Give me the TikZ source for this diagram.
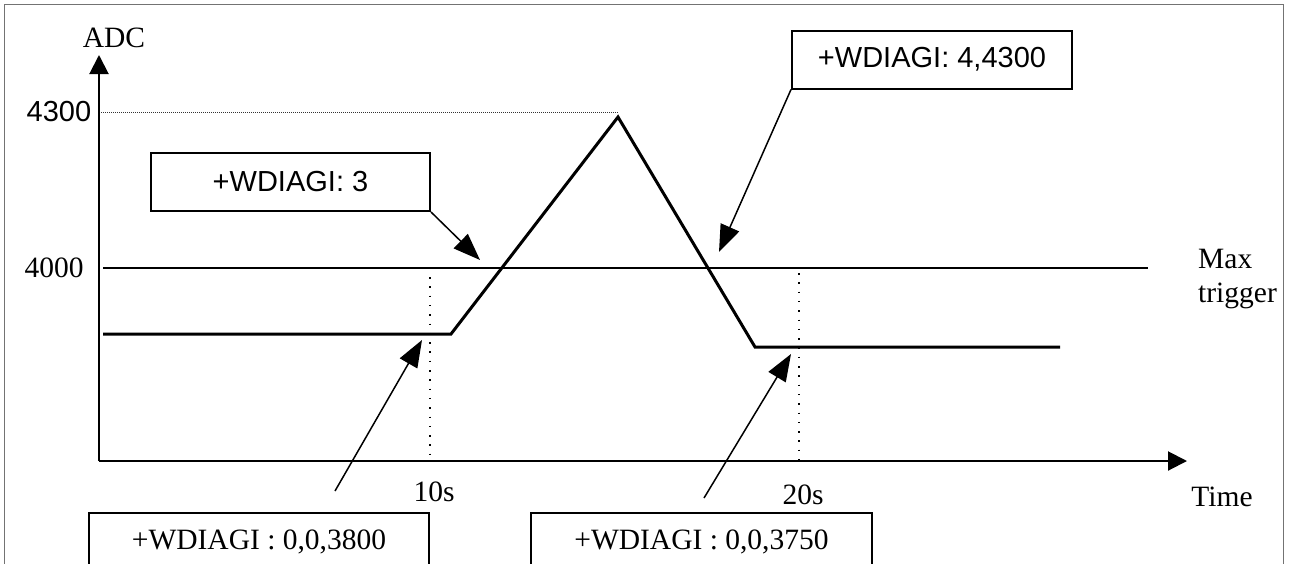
\documentclass[tikz,border=0pt]{standalone}
\usepackage{fontspec}
\setmainfont{Liberation Serif}
\newfontfamily\arial{Liberation Sans}
\usetikzlibrary{arrows.meta}
\tikzset{
  serif/.style={font=\fontsize{29.5}{34}\selectfont, inner sep=0pt},
  sans/.style={font=\arial\fontsize{29}{34}\selectfont, inner sep=0pt},
  callbox/.style={draw, line width=2pt, minimum height=58pt, inner sep=0pt},
  axisline/.style={line width=2pt, -{Triangle[length=19pt,width=19pt]}},
  callarrow/.style={line width=1.5pt, -{Triangle[length=27pt,width=20pt]}},
  signal/.style={line width=3pt, line join=miter},
  tickdots/.style={line width=1.5pt, dash pattern=on 1.5pt off 7.8pt},
  finedots/.style={line width=1pt, dash pattern=on 1pt off 1pt, black!80}
}
\begin{document}
\begin{tikzpicture}[x=1pt,y=-1pt]
\useasboundingbox (0,0) rectangle (1298,563);
\clip (0,0) rectangle (1298,563);
% frame
\draw[black!55, line width=1.2pt] (4.5,600) -- (4.5,4.5) -- (1283.5,4.5) -- (1283.5,600);

% coordinates
\coordinate (origin) at (99,461);
\coordinate (ytip) at (99,55);
\coordinate (xtip) at (1187,461);

% dotted guides
\draw[finedots] (101,112) -- (618,112);
\draw[tickdots] (430,277) -- (430,461);
\draw[tickdots] (799,273) -- (799,461);

% max trigger line
\draw[line width=1.5pt] (103,268) -- (1148,268);

% axes
\draw[axisline] (origin) -- (ytip);
\draw[axisline] (origin) -- (xtip);

% signal
\draw[signal] (103,334) -- (451,334) -- (618,117) -- (755,347) -- (1060,347);

% labels
\node[serif] (adc) at (114,38) {ADC};
\node[sans] (l4300) at (59,112) {4300};
\node[serif] (l4000) at (54,268) {4000};
\node[serif, align=left, anchor=north west] (maxtrig) at (1198,249) {Max\\trigger};
\node[serif] (t10) at (434,492) {10s};
\node[serif] (t20) at (803,495) {20s};
\node[serif] (time) at (1222,497) {Time};

% callout boxes
\node[callbox, sans, minimum width=279pt] (b3) at (290.5,182) {+WDIAGI: 3};
\node[callbox, sans, minimum width=280pt] (b4) at (932,59.5) {+WDIAGI: 4,4300};
\node[callbox, serif, minimum width=340pt] (b3800) at (259,542) {+WDIAGI : 0,0,3800};
\node[callbox, serif, minimum width=341pt] (b3750) at (701.5,542) {+WDIAGI : 0,0,3750};

% callout arrows
\coordinate (tipA) at (480,260);
\coordinate (tipB) at (719,252);
\coordinate (startC) at (335,491);
\coordinate (tipC) at (422,340);
\coordinate (startD) at (704,498);
\coordinate (tipD) at (791,354);
\draw[callarrow] (b3.south east) -- (tipA);
\draw[callarrow] (b4.south west) -- (tipB);
\draw[callarrow] (startC) -- (tipC);
\draw[callarrow] (startD) -- (tipD);
\end{tikzpicture}
\end{document}
